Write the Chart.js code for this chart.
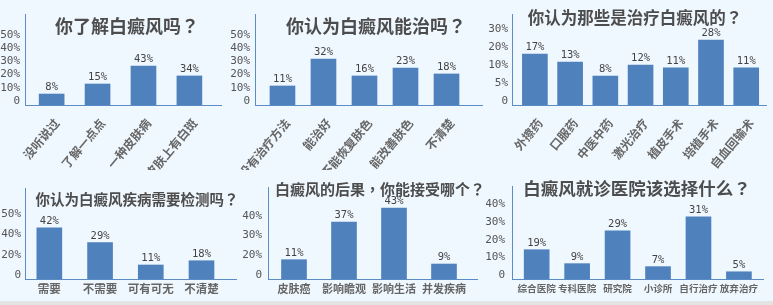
<!DOCTYPE html>
<html>
<head>
<meta charset="utf-8">
<script src="https://cdn.jsdelivr.net/npm/chart.js@4/dist/chart.umd.min.js"></script>
<style>
  body { margin: 0; width: 773px; height: 305px; overflow: hidden; position: relative; background: #f0f8ff; }
  canvas { position: absolute; }
  .title { position: absolute; font-family: 'Noto Sans CJK SC'; font-weight: bold; color: #4d4d4d;
           white-space: nowrap; line-height: 1; transform: translate(-50%, -50%); }
  .title span { font-family: 'Noto Sans CJK TC'; }
  .band { position: absolute; left: 0; top: 301px; width: 773px; height: 4px; background: #e4e4e4; }
</style>
</head>
<body>
<div class="band"></div>
<canvas id="c1"></canvas>
<canvas id="c2"></canvas>
<canvas id="c3"></canvas>
<canvas id="c4"></canvas>
<canvas id="c5"></canvas>
<canvas id="c6"></canvas>
<div class="title" style="left:127px;top:25px;font-size:18px">你了解白癜风吗<span>？</span></div>
<div class="title" style="left:376px;top:25px;font-size:18px">你认为白癜风能治吗<span>？</span></div>
<div class="title" style="left:635px;top:17px;font-size:16.5px">你认为那些是治疗白癜风的<span>？</span></div>
<div class="title" style="left:137px;top:199px;font-size:14.5px">你认为白癜风疾病需要检测吗<span>？</span></div>
<div class="title" style="left:380px;top:188px;font-size:15px">白癜风的后果<span>，</span>你能接受哪个<span>？</span></div>
<div class="title" style="left:637px;top:188px;font-size:17.5px">白癜风就诊医院该选择什么<span>？</span></div>
<script>
// bar heights in each panel's own axis units,
// the printed percentages are kept apart because they don't match the bars
var q1Categories = ['没听说过', '了解一点点', '一种皮肤病', '皮肤上有白斑'];
var q1Values = [8.3, 15.9, 29.5, 22.0];
var q1Labels = ['8%', '15%', '43%', '34%'];
var q1TickValues = [0, 10, 20, 30, 40, 50];
var q1TickLabels = ['0', '10%', '20%', '30%', '40%', '50%'];

var q2Categories = ['没有治疗方法', '能治好', '不能恢复肤色', '能改善肤色', '不清楚'];
var q2Values = [14.4, 34.8, 22.0, 28.0, 23.5];
var q2Labels = ['11%', '32%', '16%', '23%', '18%'];
var q2TickValues = [0, 10, 20, 30, 40, 50];
var q2TickLabels = ['0', '10%', '20%', '30%', '40%', '50%'];

var q3Categories = ['外擦药', '口服药', '中医中药', '激光治疗', '植皮手术', '培植手术', '自血回输术'];
var q3Values = [28.3, 23.9, 16.1, 22.2, 20.6, 36.1, 20.6];
var q3Labels = ['17%', '13%', '8%', '12%', '11%', '28%', '11%'];
var q3TickValues = [0, 10, 20, 30, 40];
var q3TickLabels = ['0', '5%', '10%', '20%', '30%'];

var q4Categories = ['需要', '不需要', '可有可无', '不清楚'];
var q4Values = [50.5, 35.8, 13.8, 18.0];
var q4Labels = ['42%', '29%', '11%', '18%'];
var q4TickValues = [0, 20, 40, 60];
var q4TickLabels = ['0', '20%', '40%', '50%'];

var q5Categories = ['皮肤癌', '影响瞻观', '影响生活', '并发疾病'];
var q5Values = [9.8, 28.9, 36.0, 7.6];
var q5Labels = ['11%', '37%', '43%', '9%'];
var q5TickValues = [0, 10, 20, 30];
var q5TickLabels = ['0', '20%', '30%', '40%'];

var q6Categories = ['综合医院', '专科医院', '研究院', '小诊所', '自行治疗', '放弃治疗'];
var q6Values = [16.6, 8.7, 27.3, 7.0, 35.2, 4.1];
var q6Labels = ['19%', '9%', '29%', '7%', '31%', '5%'];
var q6TickValues = [0, 10, 20, 30, 40];
var q6TickLabels = ['0', '10%', '20%', '30%', '40%'];

var barColor = '#4f81bd';
var axisColor = '#5b8cc6';

function drawPanel(id, categories, values, texts, tickValues, tickLabels, p) {
    var canvas = document.getElementById(id);
    canvas.width = p.right - p.left;
    canvas.height = p.bottom - p.top + p.xAxisH;
    canvas.style.left = p.left + 'px';
    canvas.style.top = p.top + 'px';

    // percent text over each bar
    var barLabels = {
        id: 'barLabels',
        afterDatasetsDraw: function (chart) {
            var ctx = chart.ctx;
            ctx.save();
            ctx.font = '10.5px "DejaVu Sans Mono"';
            ctx.fillStyle = '#444';
            ctx.textAlign = 'center';
            ctx.textBaseline = 'alphabetic';
            chart.getDatasetMeta(0).data.forEach(function (bar, i) {
                ctx.fillText(texts[i], bar.x, bar.y - 4);
            });
            ctx.restore();
        }
    };

    new Chart(canvas.getContext('2d'), {
        type: 'bar',
        data: {
            datasets: [{
                data: values.map(function (v, i) { return { x: i, y: v }; }),
                backgroundColor: barColor,
                borderWidth: 0,
                barThickness: 25
            }]
        },
        options: {
            responsive: false,
            animation: false,
            events: [],
            layout: { padding: 0 },
            plugins: { legend: { display: false }, tooltip: { enabled: false } },
            scales: {
                x: {
                    type: 'linear',
                    min: p.xMin,
                    max: p.xMax,
                    offset: false,
                    grid: { display: false, drawTicks: false },
                    border: { color: axisColor },
                    afterBuildTicks: function (s) {
                        s.ticks = categories.map(function (c, i) { return { value: i }; });
                    },
                    afterFit: function (s) {
                        s.height = p.xAxisH;
                        s.paddingLeft = 0;
                        s.paddingRight = 0;
                    },
                    ticks: {
                        autoSkip: false,
                        minRotation: p.rotate,
                        maxRotation: p.rotate,
                        padding: p.catPad,
                        labelOffset: p.catShift,
                        color: '#666',
                        font: { family: 'Noto Sans CJK SC', weight: 'bold', size: p.catFont },
                        callback: function (v) { return categories[v]; }
                    }
                },
                y: {
                    min: 0,
                    max: p.yMax,
                    grid: { display: false, drawTicks: false },
                    border: { color: axisColor },
                    afterBuildTicks: function (s) {
                        s.ticks = tickValues.map(function (v) { return { value: v }; });
                    },
                    afterFit: function (s) {
                        s.width = p.axisX - p.left;
                        s.paddingTop = 0;
                        s.paddingBottom = 0;
                    },
                    ticks: {
                        autoSkip: false,
                        padding: p.tickPad,
                        labelOffset: -4,
                        color: '#555',
                        font: { family: 'DejaVu Sans Mono', size: 11 },
                        callback: function (v) {
                            var k = tickValues.indexOf(v);
                            return k < 0 ? '' : tickLabels[k];
                        }
                    }
                }
            }
        },
        plugins: [barLabels]
    });
}

drawPanel('c1', q1Categories, q1Values, q1Labels, q1TickValues, q1TickLabels,
    { left: 0, top: 14, axisX: 25, right: 222, bottom: 105, xAxisH: 65, xMin: -0.58, xMax: 3.71,
      yMax: 68.9, tickPad: 5, rotate: 50, catPad: 11, catShift: 5, catFont: 12 });
drawPanel('c2', q2Categories, q2Values, q2Labels, q2TickValues, q2TickLabels,
    { left: 228, top: 14, axisX: 255, right: 483, bottom: 105, xAxisH: 65, xMin: -0.67, xMax: 4.89,
      yMax: 68.9, tickPad: 5, rotate: 50, catPad: 11, catShift: 5, catFont: 12 });
drawPanel('c3', q3Categories, q3Values, q3Labels, q3TickValues, q3TickLabels,
    { left: 486, top: 14, axisX: 512, right: 767, bottom: 105, xAxisH: 65, xMin: -0.65, xMax: 6.59,
      yMax: 50.6, tickPad: 4, rotate: 50, catPad: 11, catShift: 5, catFont: 12 });
drawPanel('c4', q4Categories, q4Values, q4Labels, q4TickValues, q4TickLabels,
    { left: 0, top: 188, axisX: 25, right: 237, bottom: 279, xAxisH: 20, xMin: -0.48, xMax: 3.70,
      yMax: 89.7, tickPad: 4, rotate: 0, catPad: 3, catShift: 0, catFont: 11.5 });
drawPanel('c5', q5Categories, q5Values, q5Labels, q5TickValues, q5TickLabels,
    { left: 240, top: 187, axisX: 268, right: 478, bottom: 279, xAxisH: 20, xMin: -0.52, xMax: 3.68,
      yMax: 46.7, tickPad: 6, rotate: 0, catPad: 3, catShift: 0, catFont: 11 });
drawPanel('c6', q6Categories, q6Values, q6Labels, q6TickValues, q6TickLabels,
    { left: 486, top: 186, axisX: 512, right: 764, bottom: 279, xAxisH: 20, xMin: -0.61, xMax: 5.62,
      yMax: 52.7, tickPad: 7, rotate: 0, catPad: 4, catShift: 0, catFont: 9.6 });
</script>
</body>
</html>
